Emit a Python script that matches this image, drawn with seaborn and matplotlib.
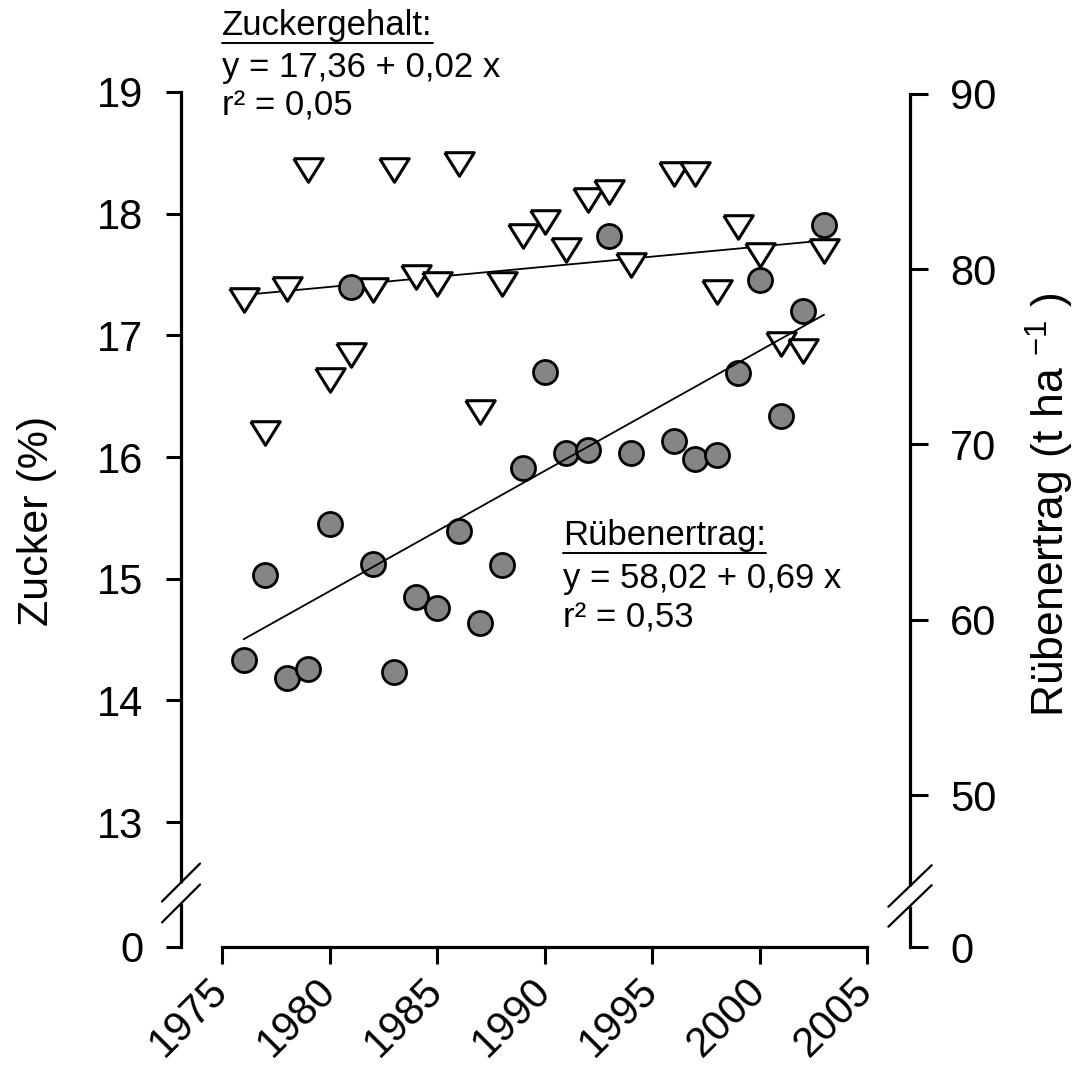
import numpy as np
import pandas as pd
import matplotlib
matplotlib.use('Agg')
import matplotlib.pyplot as plt
from matplotlib.lines import Line2D
import seaborn as sns

# Jahre mit Messwerten (1995 fehlt in der Vorlage)
years = [1976, 1977, 1978, 1979, 1980, 1981, 1982, 1983, 1984, 1985,
         1986, 1987, 1988, 1989, 1990, 1991, 1992, 1993, 1994, 1996,
         1997, 1998, 1999, 2000, 2001, 2002, 2003]

# Zuckergehalt (%), linke Achse, Dreiecke
zucker = [17.29, 16.20, 17.38, 18.36, 16.63, 16.84, 17.37, 18.36, 17.48, 17.42,
          18.41, 16.37, 17.42, 17.82, 17.93, 17.70, 18.11, 18.18, 17.58, 18.33,
          18.33, 17.36, 17.89, 17.66, 16.93, 16.87, 17.69]

# Rübenertrag (t/ha), rechte Achse, Kreise
ertrag = [57.7, 62.55, 56.7, 57.2, 65.46, 79.0, 63.2, 57.0, 61.3, 60.65,
          65.06, 59.8, 63.1, 68.64, 74.15, 69.5, 69.7, 81.9, 69.5, 70.2,
          69.2, 69.4, 74.1, 79.4, 71.6, 77.6, 82.5]

x_ticks = [1975, 1980, 1985, 1990, 1995, 2000, 2005]
left_ticks = [13, 14, 15, 16, 17, 18, 19]
right_ticks = [50, 60, 70, 80, 90]

df_z = pd.DataFrame({'Jahr': years, 'Zucker': zucker})
df_r = pd.DataFrame({'Jahr': years, 'Ertrag': ertrag})

sns.set_style('ticks')
plt.rcParams['font.family'] = ['Liberation Sans', 'DejaVu Sans']
plt.rcParams['mathtext.default'] = 'regular'
for key in ['text.color', 'axes.labelcolor', 'axes.edgecolor', 'xtick.color', 'ytick.color']:
    plt.rcParams[key] = 'black'

W, H = 1079, 1071
fig = plt.figure(figsize=(W / 100, H / 100), dpi=100)
ax = fig.add_axes([181 / W, 1 - 947 / H, (910 - 181) / W, (947 - 92) / H])
ax2 = ax.twinx()

# axis ranges (broken axes: the bottom end stands for 0)
left_lo, right_lo = 11.973, 41.33
ax.set_xlim(1973.09, 2007.0)
ax.set_ylim(left_lo, 19.0)
ax2.set_ylim(right_lo, 90.11)

# regression lines
sns.regplot(data=df_z, x='Jahr', y='Zucker', ax=ax, scatter=False, ci=None,
            truncate=True, line_kws=dict(color='black', lw=1.3, zorder=2))
sns.regplot(data=df_r, x='Jahr', y='Ertrag', ax=ax2, scatter=False, ci=None,
            truncate=True, line_kws=dict(color='black', lw=1.3, zorder=4))

# points
tri = [(-1, 0.8), (1, 0.8), (0, -0.8), (-1, 0.8)]
sns.scatterplot(data=df_z, x='Jahr', y='Zucker', ax=ax, marker=tri, s=450,
                color='white', edgecolor='black', linewidth=2.2, zorder=3)
sns.scatterplot(data=df_r, x='Jahr', y='Ertrag', ax=ax2, marker='o', s=300,
                color='#858585', edgecolor='black', linewidth=2.0, zorder=3)

# spines
for s in ['top', 'right']:
    ax.spines[s].set_visible(False)
for s in ['top', 'left', 'bottom']:
    ax2.spines[s].set_visible(False)
for sp in [ax.spines['left'], ax.spines['bottom'], ax2.spines['right']]:
    sp.set_linewidth(2.3)
ax.spines['left'].set_bounds(left_lo, 19)
ax.spines['bottom'].set_bounds(1975, 2005)
ax2.spines['right'].set_bounds(right_lo, 90)

# ticks
ax.set_xticks(x_ticks)
ax.set_xticklabels([str(t) for t in x_ticks])
ax.set_yticks([left_lo] + left_ticks)
ax.set_yticklabels(['0'] + [str(t) for t in left_ticks])
ax2.set_yticks([right_lo] + right_ticks)
ax2.set_yticklabels(['0'] + [str(t) for t in right_ticks])

ax.tick_params(axis='y', direction='out', length=11, width=2.2, pad=16, labelsize=30)
ax.tick_params(axis='x', direction='out', length=12, width=2.2, pad=15, labelsize=30)
ax2.tick_params(axis='y', direction='out', length=13, width=2.2, pad=16, labelsize=30)
for lab in ax.get_xticklabels():
    lab.set_rotation(45)
    lab.set_ha('right')
    lab.set_va('center')
    lab.set_rotation_mode('anchor')

# axis labels
ax.set_xlabel('')
ax.set_ylabel('Zucker (%)', fontsize=31)
ax.yaxis.set_label_coords((37 - 181) / 729, (947 - 521) / 855)
ax.yaxis.label.set_va('center')
ax2.set_ylabel('Rübenertrag (t ha $^{-1}$ )', fontsize=32)
ax2.yaxis.set_label_coords((1050 - 181) / 729, (947 - 505) / 855)
ax2.yaxis.label.set_va('center')

# axis break marks
def axis_break(axis, xc, centers, dx, dy):
    axis.plot([xc, xc], [centers[1], centers[0]], color='white', lw=8,
              transform=axis.transAxes, clip_on=False, zorder=5,
              solid_capstyle='butt')
    for c in centers:
        axis.plot([xc - dx, xc + dx], [c - dy, c + dy], color='black', lw=1.6,
                  transform=axis.transAxes, clip_on=False, zorder=6)

axis_break(ax, 0.0, [0.0754, 0.0509], 0.0261, 0.0222)
axis_break(ax2, 1.0, [0.0713, 0.048], 0.0297, 0.0243)

# regression equations
def fig_text(px, py, s):
    return fig.text(px / W, 1 - py / H, s, fontsize=25, ha='left', va='baseline')

t1 = fig_text(222, 35, 'Zuckergehalt:')
fig_text(222, 77, 'y = 17,36 + 0,02 x')
fig_text(222, 115, 'r² = 0,05')
t2 = fig_text(563, 545, 'Rübenertrag:')
fig_text(563, 588, 'y = 58,02 + 0,69 x')
fig_text(563, 628, 'r² = 0,53')

fig.canvas.draw()
renderer = fig.canvas.get_renderer()
for t, uy in [(t1, 43), (t2, 553)]:
    bb = t.get_window_extent(renderer)
    fig.add_artist(Line2D([bb.x0 / W, bb.x1 / W], [1 - uy / H, 1 - uy / H],
                          transform=fig.transFigure, color='black', lw=1.4))

fig.savefig('out.png', dpi=100)
